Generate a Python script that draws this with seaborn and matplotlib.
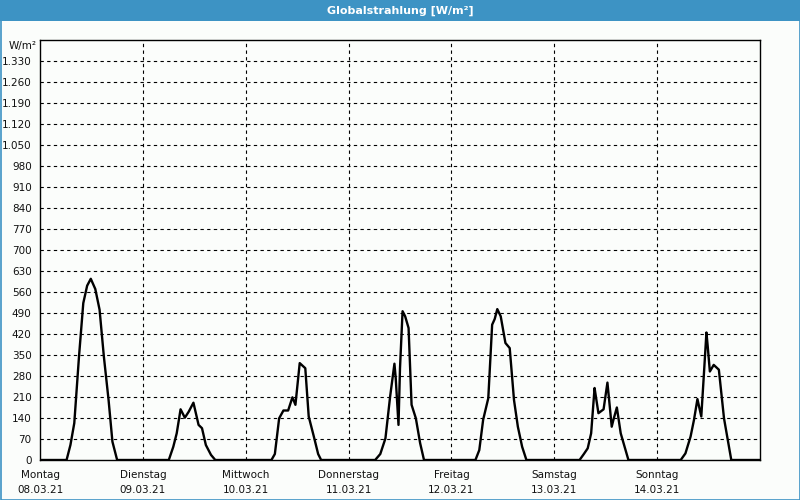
import matplotlib
matplotlib.use("Agg")
import matplotlib.pyplot as plt
import seaborn as sns
import pandas as pd
import numpy as np

# ---- data (hour of day, W/m²) ----
day_names = ["Montag", "Dienstag", "Mittwoch", "Donnerstag", "Freitag", "Samstag", "Sonntag"]
day_dates = ["08.03.21", "09.03.21", "10.03.21", "11.03.21", "12.03.21", "13.03.21", "14.03.21"]

mon_h = [0, 6.2, 7.1, 8.0, 9.1, 10.1, 11.0, 11.85, 12.9, 13.9, 14.9, 16.0, 16.9, 18.0, 24]
mon_v = [0, 0, 50, 123, 345, 523, 581, 604, 570, 501, 345, 200, 61, 0, 0]

tue_h = [0, 6.05, 7.1, 7.9, 8.8, 9.8, 10.7, 11.8, 13.0, 13.8, 14.7, 15.9, 16.9, 24]
tue_v = [0, 0, 44, 89, 169, 141, 161, 191, 117, 106, 50, 17, 0, 0]

wed_h = [0, 6.0, 6.8, 7.8, 8.8, 9.9, 10.9, 11.6, 12.6, 13.9, 14.7, 15.9, 16.9, 17.6, 24]
wed_v = [0, 0, 20, 139, 165, 165, 209, 184, 323, 306, 145, 78, 20, 0, 0]

thu_h = [0, 6.2, 7.4, 8.6, 9.7, 10.7, 11.0, 11.65, 12.0, 12.6, 13.2, 14.0, 14.7, 15.7, 16.7, 17.6, 24]
thu_v = [0, 0, 20, 72, 212, 321, 273, 117, 306, 496, 479, 440, 184, 139, 56, 0, 0]

fri_h = [0, 5.6, 6.5, 7.4, 8.6, 9.5, 10.1, 10.7, 11.5, 12.6, 13.6, 14.6, 15.5, 16.5, 17.5, 24]
fri_v = [0, 0, 33, 134, 206, 451, 470, 503, 479, 390, 373, 200, 111, 44, 0, 0]

sat_h = [0, 5.9, 6.9, 7.8, 8.6, 9.4, 9.7, 10.3, 11.5, 12.4, 12.8, 13.4, 13.8, 14.6, 15.5, 17.3, 24]
sat_v = [0, 0, 20, 39, 89, 240, 212, 156, 169, 258, 200, 111, 134, 175, 89, 0, 0]

sun_h = [0, 5.5, 6.6, 7.8, 8.6, 9.4, 10.3, 10.9, 11.5, 11.8, 12.3, 13.2, 14.4, 15.6, 17.3, 24]
sun_v = [0, 0, 22, 78, 134, 203, 145, 284, 425, 379, 295, 317, 301, 139, 0, 0]

days_h = [mon_h, tue_h, wed_h, thu_h, fri_h, sat_h, sun_h]
days_v = [mon_v, tue_v, wed_v, thu_v, fri_v, sat_v, sun_v]

y_ticks = list(range(0, 1331, 70))

# ---- build table ----
rows = []
for d, (hh, vv) in enumerate(zip(days_h, days_v)):
    for h, v in zip(hh, vv):
        rows.append((d * 24 + h, v))
df = pd.DataFrame(rows, columns=["t", "v"]).drop_duplicates("t")

BG = "#fbfdfb"
BLUE = "#3d93c4"

sns.set_theme(style="white")
plt.rcParams["font.family"] = ["DejaVu Sans"]

fig = plt.figure(figsize=(8, 5), dpi=100, facecolor=BG)
ax = fig.add_axes([40 / 800, 1 - 460 / 500, 720 / 800, 420 / 500])
ax.set_facecolor(BG)

sns.lineplot(data=df, x="t", y="v", color="black", linewidth=1.7, ax=ax, zorder=5)

ax.set_xlim(0, 7 * 24)
ax.set_ylim(0, 1400)

ax.set_yticks(y_ticks)
ax.set_yticklabels([f"{v:,}".replace(",", ".") for v in y_ticks], fontsize=7.5)
ax.set_xticks([d * 24 for d in range(7)])
ax.set_xticklabels([f"{n}\n{dt}" for n, dt in zip(day_names, day_dates)],
                   fontsize=7.5, linespacing=1.65)
ax.tick_params(axis="both", direction="out", length=4, width=0.8, color="black",
               pad=2, labelcolor="#111111")
ax.tick_params(axis="x", pad=3)
ax.set_xlabel("")
ax.set_ylabel("")

for v in y_ticks[1:]:
    ax.axhline(v, color="black", linewidth=0.8, linestyle=(0, (3, 3)), zorder=1)
for d in range(1, 7):
    ax.axvline(d * 24, color="black", linewidth=0.8, linestyle=(0, (3, 3)), zorder=1)

for s in ax.spines.values():
    s.set_visible(True)
    s.set_color("black")
    s.set_linewidth(1.0)

ax.text(-0.004, 1 - 6 / 420, "W/m²", transform=ax.transAxes, ha="right", va="center",
        fontsize=7.5, color="#111111")

# title bar
fig.patches.append(plt.Rectangle((0, 1 - 21 / 500), 1, 21 / 500, transform=fig.transFigure,
                                 facecolor=BLUE, edgecolor="none", zorder=0))
fig.text(0.5, 1 - 10.5 / 500, "Globalstrahlung [W/m²]", ha="center", va="center",
         color="white", fontsize=8, fontweight="bold")
# outer border
fig.patches.append(plt.Rectangle((0.5 / 800, 0.5 / 500), 799 / 800, 499 / 500, transform=fig.transFigure,
                                 facecolor="none", edgecolor=BLUE, linewidth=1.2, zorder=0))

fig.savefig("out.png", dpi=100, facecolor=BG)
